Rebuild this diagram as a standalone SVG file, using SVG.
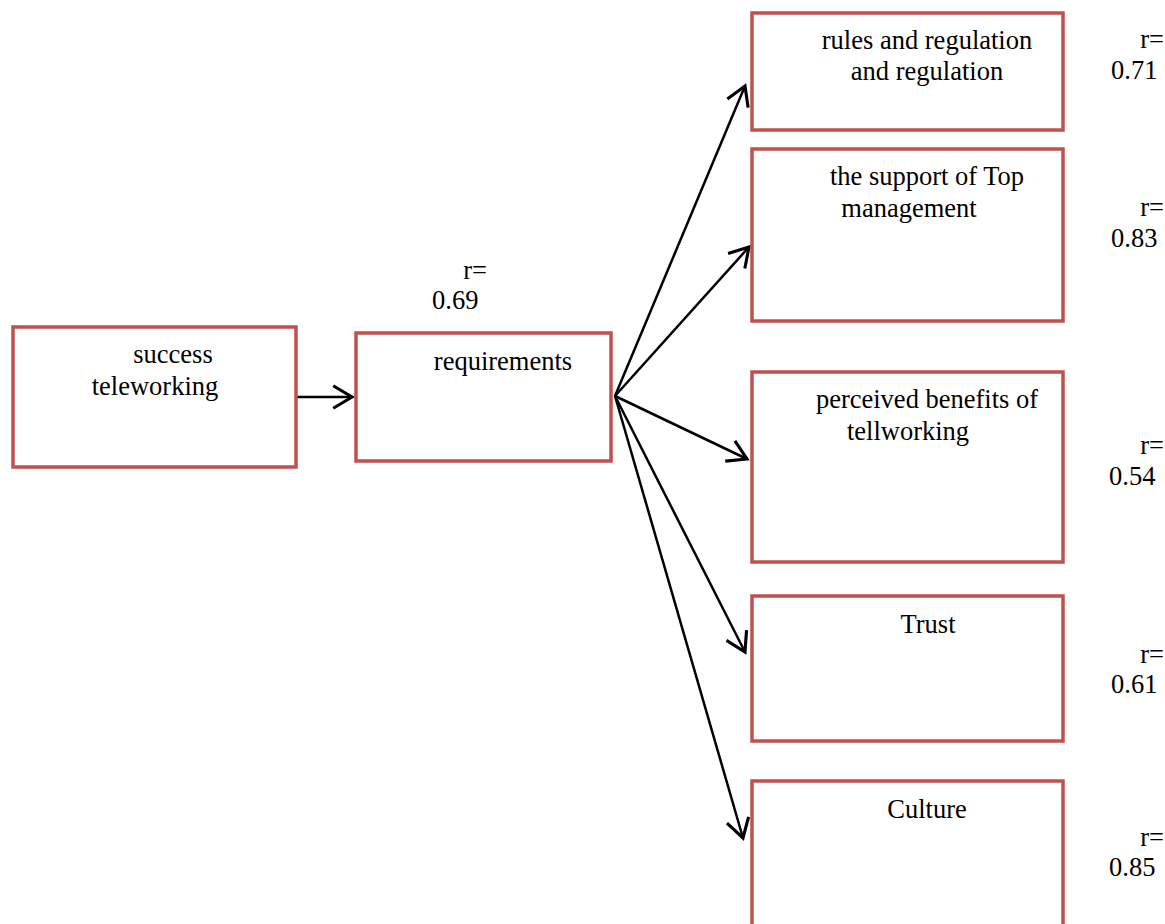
<svg xmlns="http://www.w3.org/2000/svg" width="1165" height="924" viewBox="0 0 1165 924">
<style>
.box{fill:#fff;stroke:#C0504D;stroke-width:3.5}
.t{font-family:"Liberation Serif","Times New Roman",serif;font-size:26.5px;fill:#000}
.m{text-anchor:middle}
.e{text-anchor:end}
.c{stroke:#000;stroke-width:2.5;fill:none}
</style>
<defs>
<marker id="ah" markerUnits="userSpaceOnUse" markerWidth="30" markerHeight="30" refX="0" refY="0" viewBox="-16 -12 20 24" orient="auto">
<path d="M-15,-9 L0,0 L-15,9" fill="none" stroke="#000" stroke-width="2.5"/>
</marker>
</defs>
<rect width="1165" height="924" fill="#fff"/>
<g id="connectors">
<line class="c" x1="297" y1="397" x2="352" y2="397" marker-end="url(#ah)"/>
<line class="c" x1="615" y1="396" x2="745" y2="86" marker-end="url(#ah)"/>
<line class="c" x1="615" y1="396" x2="749" y2="247" marker-end="url(#ah)"/>
<line class="c" x1="615" y1="396" x2="747" y2="459" marker-end="url(#ah)"/>
<line class="c" x1="615" y1="396" x2="745" y2="652" marker-end="url(#ah)"/>
<line class="c" x1="615" y1="396" x2="743" y2="838" marker-end="url(#ah)"/>
</g>
<g id="node-success">
<rect class="box" x="13" y="327" width="283" height="140"/>
<text class="t m" x="173" y="363">success</text>
<text class="t m" x="155" y="395">teleworking</text>
</g>
<g id="node-requirements">
<rect class="box" x="356" y="333" width="255" height="128"/>
<text class="t m" x="503" y="370">requirements</text>
<text class="t e" x="487" y="279">r=</text>
<text class="t" x="432" y="309">0.69</text>
</g>
<g id="node-rules">
<rect class="box" x="752" y="13" width="311" height="117"/>
<text class="t m" x="927" y="49">rules and regulation</text>
<text class="t m" x="927" y="80">and regulation</text>
<text class="t e" x="1164" y="48">r=</text>
<text class="t" x="1111" y="79">0.71</text>
</g>
<g id="node-support">
<rect class="box" x="752" y="149" width="311" height="172"/>
<text class="t m" x="927" y="185">the support of Top</text>
<text class="t m" x="909" y="217">management</text>
<text class="t e" x="1164" y="216">r=</text>
<text class="t" x="1111" y="247">0.83</text>
</g>
<g id="node-benefits">
<rect class="box" x="752" y="372" width="311" height="190"/>
<text class="t m" x="927" y="408">perceived benefits of</text>
<text class="t m" x="908" y="440">tellworking</text>
<text class="t e" x="1164" y="454">r=</text>
<text class="t" x="1109" y="485">0.54</text>
</g>
<g id="node-trust">
<rect class="box" x="752" y="596" width="311" height="145"/>
<text class="t m" x="928" y="633">Trust</text>
<text class="t e" x="1164" y="663">r=</text>
<text class="t" x="1111" y="693">0.61</text>
</g>
<g id="node-culture">
<rect class="box" x="752" y="781" width="311" height="170"/>
<text class="t m" x="927" y="818">Culture</text>
<text class="t e" x="1164" y="846">r=</text>
<text class="t" x="1109" y="876">0.85</text>
</g>
</svg>
